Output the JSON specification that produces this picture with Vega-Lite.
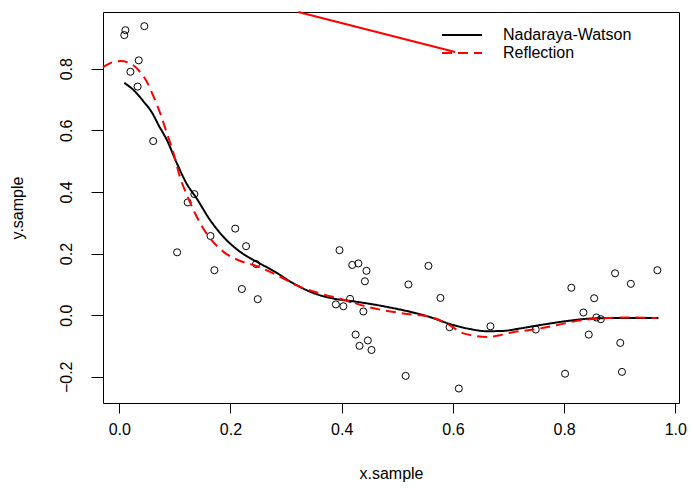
{
  "$schema": "https://vega.github.io/schema/vega-lite/v6.json",
  "autosize": "none",
  "padding": {"left": 103, "top": 12, "right": 13, "bottom": 86},
  "width": 576,
  "height": 391,
  "background": "white",
  "config": {
    "view": {"stroke": "black", "strokeWidth": 1},
    "font": "Liberation Sans",
    "axis": {"grid": false, "domain": false, "tickColor": "black", "labelColor": "black", "titleColor": "black", "labelFontSize": 16, "titleFontSize": 16, "titleFontWeight": "normal", "labelFont": "Liberation Sans", "titleFont": "Liberation Sans"}
  },
  "datasets": {
    "pts": [
      {"x": 0.011, "y": 0.925}, {"x": 0.009, "y": 0.909}, {"x": 0.045, "y": 0.938}, {"x": 0.035, "y": 0.827},
      {"x": 0.020, "y": 0.790}, {"x": 0.033, "y": 0.742}, {"x": 0.061, "y": 0.565}, {"x": 0.135, "y": 0.393},
      {"x": 0.123, "y": 0.366}, {"x": 0.104, "y": 0.204}, {"x": 0.164, "y": 0.257}, {"x": 0.2085, "y": 0.281},
      {"x": 0.228, "y": 0.224}, {"x": 0.171, "y": 0.146}, {"x": 0.246, "y": 0.166}, {"x": 0.2205, "y": 0.085},
      {"x": 0.249, "y": 0.052}, {"x": 0.396, "y": 0.211}, {"x": 0.3895, "y": 0.035}, {"x": 0.403, "y": 0.029},
      {"x": 0.415, "y": 0.053}, {"x": 0.419, "y": 0.163}, {"x": 0.430, "y": 0.168}, {"x": 0.4445, "y": 0.144},
      {"x": 0.4417, "y": 0.110}, {"x": 0.439, "y": 0.012}, {"x": 0.425, "y": -0.063}, {"x": 0.447, "y": -0.082},
      {"x": 0.432, "y": -0.0995}, {"x": 0.4535, "y": -0.113}, {"x": 0.520, "y": 0.0997}, {"x": 0.556, "y": 0.160},
      {"x": 0.5776, "y": 0.056}, {"x": 0.594, "y": -0.039}, {"x": 0.6675, "y": -0.036}, {"x": 0.515, "y": -0.197},
      {"x": 0.6106, "y": -0.238}, {"x": 0.749, "y": -0.0465}, {"x": 0.813, "y": 0.089}, {"x": 0.8017, "y": -0.190},
      {"x": 0.8347, "y": 0.0087}, {"x": 0.854, "y": 0.055}, {"x": 0.8443, "y": -0.063}, {"x": 0.858, "y": -0.0075},
      {"x": 0.866, "y": -0.013}, {"x": 0.8916, "y": 0.136}, {"x": 0.920, "y": 0.1017}, {"x": 0.901, "y": -0.090},
      {"x": 0.904, "y": -0.184}, {"x": 0.9677, "y": 0.146}
    ],
    "curves": [
      {"method": "Nadaraya-Watson", "x": 0.009, "y": 0.754},
      {"method": "Nadaraya-Watson", "x": 0.0257, "y": 0.7305},
      {"method": "Nadaraya-Watson", "x": 0.043, "y": 0.695},
      {"method": "Nadaraya-Watson", "x": 0.0593, "y": 0.656},
      {"method": "Nadaraya-Watson", "x": 0.0706, "y": 0.617},
      {"method": "Nadaraya-Watson", "x": 0.0857, "y": 0.568},
      {"method": "Nadaraya-Watson", "x": 0.1037, "y": 0.4925},
      {"method": "Nadaraya-Watson", "x": 0.1217, "y": 0.425},
      {"method": "Nadaraya-Watson", "x": 0.1380, "y": 0.382},
      {"method": "Nadaraya-Watson", "x": 0.1636, "y": 0.308},
      {"method": "Nadaraya-Watson", "x": 0.1875, "y": 0.254},
      {"method": "Nadaraya-Watson", "x": 0.2175, "y": 0.2055},
      {"method": "Nadaraya-Watson", "x": 0.2475, "y": 0.173},
      {"method": "Nadaraya-Watson", "x": 0.277, "y": 0.144},
      {"method": "Nadaraya-Watson", "x": 0.3133, "y": 0.103},
      {"method": "Nadaraya-Watson", "x": 0.349, "y": 0.072},
      {"method": "Nadaraya-Watson", "x": 0.385, "y": 0.054},
      {"method": "Nadaraya-Watson", "x": 0.421, "y": 0.045},
      {"method": "Nadaraya-Watson", "x": 0.481, "y": 0.027},
      {"method": "Nadaraya-Watson", "x": 0.553, "y": -0.003},
      {"method": "Nadaraya-Watson", "x": 0.601, "y": -0.032},
      {"method": "Nadaraya-Watson", "x": 0.631, "y": -0.045},
      {"method": "Nadaraya-Watson", "x": 0.661, "y": -0.052},
      {"method": "Nadaraya-Watson", "x": 0.690, "y": -0.051},
      {"method": "Nadaraya-Watson", "x": 0.721, "y": -0.043},
      {"method": "Nadaraya-Watson", "x": 0.757, "y": -0.032},
      {"method": "Nadaraya-Watson", "x": 0.805, "y": -0.019},
      {"method": "Nadaraya-Watson", "x": 0.847, "y": -0.011},
      {"method": "Nadaraya-Watson", "x": 0.895, "y": -0.009},
      {"method": "Nadaraya-Watson", "x": 0.9695, "y": -0.009},
      {"method": "Reflection", "x": -0.029, "y": 0.805},
      {"method": "Reflection", "x": -0.010, "y": 0.822},
      {"method": "Reflection", "x": 0.002, "y": 0.8247},
      {"method": "Reflection", "x": 0.0198, "y": 0.817},
      {"method": "Reflection", "x": 0.0347, "y": 0.795},
      {"method": "Reflection", "x": 0.0497, "y": 0.757},
      {"method": "Reflection", "x": 0.0617, "y": 0.709},
      {"method": "Reflection", "x": 0.0737, "y": 0.655},
      {"method": "Reflection", "x": 0.0857, "y": 0.590},
      {"method": "Reflection", "x": 0.0977, "y": 0.525},
      {"method": "Reflection", "x": 0.1097, "y": 0.445},
      {"method": "Reflection", "x": 0.1217, "y": 0.390},
      {"method": "Reflection", "x": 0.1336, "y": 0.341},
      {"method": "Reflection", "x": 0.1456, "y": 0.2976},
      {"method": "Reflection", "x": 0.1636, "y": 0.249},
      {"method": "Reflection", "x": 0.1875, "y": 0.2055},
      {"method": "Reflection", "x": 0.2175, "y": 0.176},
      {"method": "Reflection", "x": 0.2475, "y": 0.159},
      {"method": "Reflection", "x": 0.2835, "y": 0.130},
      {"method": "Reflection", "x": 0.325, "y": 0.092},
      {"method": "Reflection", "x": 0.361, "y": 0.0705},
      {"method": "Reflection", "x": 0.400, "y": 0.052},
      {"method": "Reflection", "x": 0.451, "y": 0.025},
      {"method": "Reflection", "x": 0.511, "y": 0.0055},
      {"method": "Reflection", "x": 0.559, "y": -0.0055},
      {"method": "Reflection", "x": 0.589, "y": -0.027},
      {"method": "Reflection", "x": 0.619, "y": -0.059},
      {"method": "Reflection", "x": 0.661, "y": -0.0705},
      {"method": "Reflection", "x": 0.685, "y": -0.065},
      {"method": "Reflection", "x": 0.706, "y": -0.056},
      {"method": "Reflection", "x": 0.745, "y": -0.0465},
      {"method": "Reflection", "x": 0.787, "y": -0.0325},
      {"method": "Reflection", "x": 0.823, "y": -0.0185},
      {"method": "Reflection", "x": 0.859, "y": -0.011},
      {"method": "Reflection", "x": 0.9126, "y": -0.0075},
      {"method": "Reflection", "x": 0.9666, "y": -0.009}
    ],
    "stray": [
      {"x": 0.3218, "y": 0.984},
      {"x": 0.604, "y": 0.854}
    ]
  },
  "layer": [
    {
      "data": {"name": "pts"},
      "mark": {"type": "point", "shape": "circle", "filled": false, "stroke": "black", "strokeWidth": 1, "size": 50, "opacity": 1},
      "encoding": {
        "x": {"field": "x", "type": "quantitative", "scale": {"domain": [-0.0293, 1.0066], "nice": false, "zero": false},
          "axis": {"title": "x.sample", "values": [0, 0.2, 0.4, 0.6, 0.8, 1.0], "format": ".1f", "tickSize": 10, "labelPadding": 8, "titlePadding": 28, "labelFlush": false}},
        "y": {"field": "y", "type": "quantitative", "scale": {"domain": [-0.285, 0.984], "nice": false, "zero": false},
          "axis": {"title": "y.sample", "values": [-0.2, 0, 0.2, 0.4, 0.6, 0.8], "format": ".1f", "tickSize": 12, "labelAngle": -90, "labelAlign": "center", "labelBaseline": "bottom", "labelPadding": 17, "titlePadding": 33, "labelFlush": false}}
      }
    },
    {
      "data": {"name": "curves"},
      "mark": {"type": "line", "strokeWidth": 2, "interpolate": "monotone"},
      "encoding": {
        "x": {"field": "x", "type": "quantitative"},
        "y": {"field": "y", "type": "quantitative"},
        "detail": {"field": "method"},
        "color": {"field": "method", "type": "nominal", "scale": {"domain": ["Nadaraya-Watson", "Reflection"], "range": ["black", "red"]},
          "legend": {"title": null, "orient": "none", "legendX": 351, "legendY": 15, "symbolType": "M-4,0H4", "symbolSize": 100, "symbolStrokeWidth": 2, "labelFontSize": 16, "labelColor": "black", "labelFont": "Liberation Sans", "labelOffset": 33, "rowPadding": 2}},
        "strokeDash": {"field": "method", "type": "nominal", "scale": {"domain": ["Nadaraya-Watson", "Reflection"], "range": [[1, 0], [10, 6]]},
          "legend": {"title": null}}
      }
    },
    {
      "data": {"name": "stray"},
      "mark": {"type": "line", "strokeWidth": 2, "color": "red"},
      "encoding": {
        "x": {"field": "x", "type": "quantitative"},
        "y": {"field": "y", "type": "quantitative"}
      }
    }
  ]
}
